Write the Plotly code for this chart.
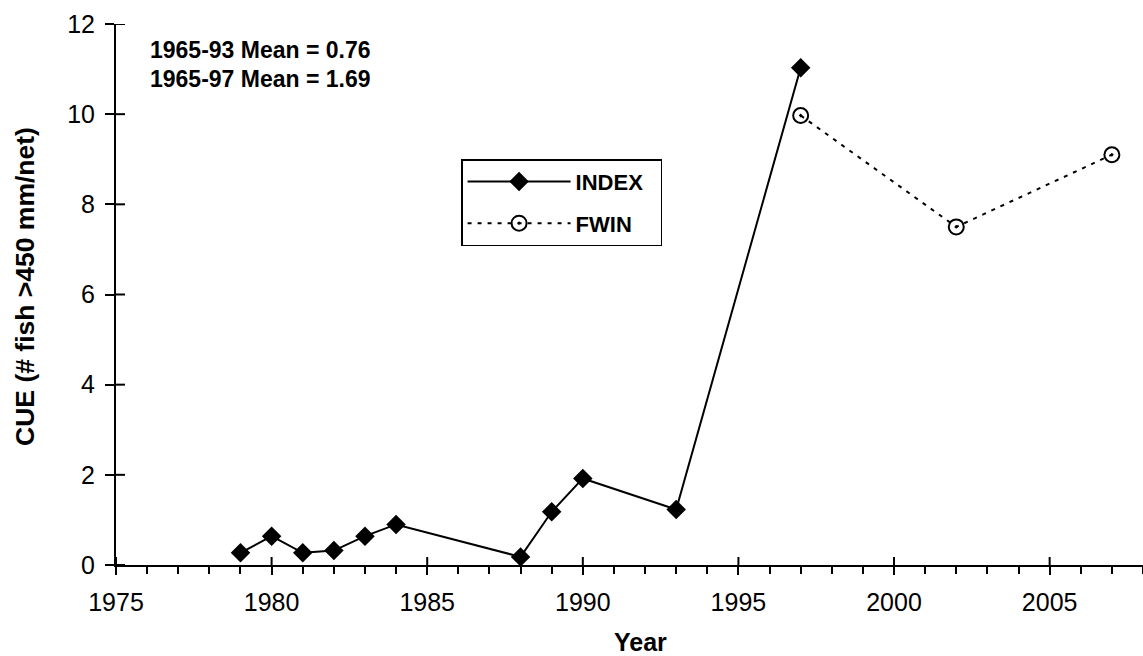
import plotly.graph_objects as go

# ---- data ----
index_years = [1979, 1980, 1981, 1982, 1983, 1984, 1988, 1989, 1990, 1993, 1997]
index_cue = [0.27, 0.64, 0.27, 0.32, 0.64, 0.90, 0.18, 1.18, 1.92, 1.23, 11.03]
fwin_years = [1997, 2002, 2007]
fwin_cue = [9.97, 7.50, 9.10]
x_tickvals = [1975, 1980, 1985, 1990, 1995, 2000, 2005]
y_tickvals = [0, 2, 4, 6, 8, 10, 12]
mean_notes = ["1965-93 Mean = 0.76", "1965-97 Mean = 1.69"]

FONT = "Arial, Liberation Sans, sans-serif"
X_RANGE = [1975, 2008]
Y_RANGE = [0, 12]

fig = go.Figure()
fig.add_trace(go.Scatter(
    x=index_years, y=index_cue, name="<b>INDEX</b>&nbsp;&nbsp;", mode="lines+markers",
    legendgroup="a",
    line=dict(color="black", width=2),
    marker=dict(symbol="diamond", size=15, color="black"),
))
fig.add_trace(go.Scatter(
    x=fwin_years, y=fwin_cue, name="<b>FWIN</b>", mode="lines+markers",
    legendgroup="b",
    line=dict(color="black", width=2, dash="4px,6px"),
    marker=dict(symbol="circle-open-dot", size=15, color="black",
                line=dict(width=2, color="black")),
))

axis_common = dict(showgrid=False, zeroline=False, color="black",
                   tickfont=dict(family=FONT, size=25, color="black"))

fig.update_layout(
    width=1143, height=656,
    margin=dict(l=116, r=0, t=24, b=91),
    paper_bgcolor="white", plot_bgcolor="white",
    font=dict(family=FONT, color="black"),
    xaxis=dict(range=X_RANGE, tickvals=x_tickvals, ticks="outside",
               ticklen=8, tickwidth=2, showline=True, linewidth=2,
               linecolor="black", ticklabelstandoff=6,
               minor=dict(dtick=1, ticks="outside", ticklen=7, tickwidth=2,
                          tickcolor="black", showgrid=False),
               **axis_common),
    yaxis=dict(range=Y_RANGE, tickvals=y_tickvals, ticks="outside",
               ticklen=9, tickwidth=2, showline=True, linewidth=2,
               linecolor="black", ticklabelstandoff=5, **axis_common),
    showlegend=True,
    legend=dict(x=0.336, y=0.75, xanchor="left", yanchor="top",
                bordercolor="black", borderwidth=1.5, bgcolor="white",
                font=dict(family=FONT, size=22, color="black"),
                itemwidth=103, tracegroupgap=10),
)

# inner halves of the major ticks (they cross the axis lines in the original)
for xv in x_tickvals:
    fig.add_shape(type="line", xref="x", yref="paper", x0=xv, x1=xv,
                  ysizemode="pixel", yanchor=0, y0=0, y1=8,
                  line=dict(color="black", width=2), layer="above")
for yv in y_tickvals:
    fig.add_shape(type="line", xref="paper", yref="y", y0=yv, y1=yv,
                  xsizemode="pixel", xanchor=0, x0=0, x1=9,
                  line=dict(color="black", width=2), layer="above")

for i, txt in enumerate(mean_notes):
    fig.add_annotation(text=f"<b>{txt}</b>", xref="paper", yref="paper",
                       x=0.031, y=0.952 - i * 0.054, xanchor="left",
                       yanchor="middle", showarrow=False,
                       font=dict(family=FONT, size=23, color="black"))

fig.add_annotation(text="<b>CUE (# fish >450 mm/net)</b>", xref="paper",
                   yref="paper", x=-0.0886, y=0.514, textangle=-90,
                   xanchor="center", yanchor="middle", showarrow=False,
                   font=dict(family=FONT, size=26.5, color="black"))
fig.add_annotation(text="<b>Year</b>", xref="paper", yref="paper",
                   x=0.511, y=-0.142, xanchor="center", yanchor="middle",
                   showarrow=False,
                   font=dict(family=FONT, size=25, color="black"))

fig.write_html("out.html")
